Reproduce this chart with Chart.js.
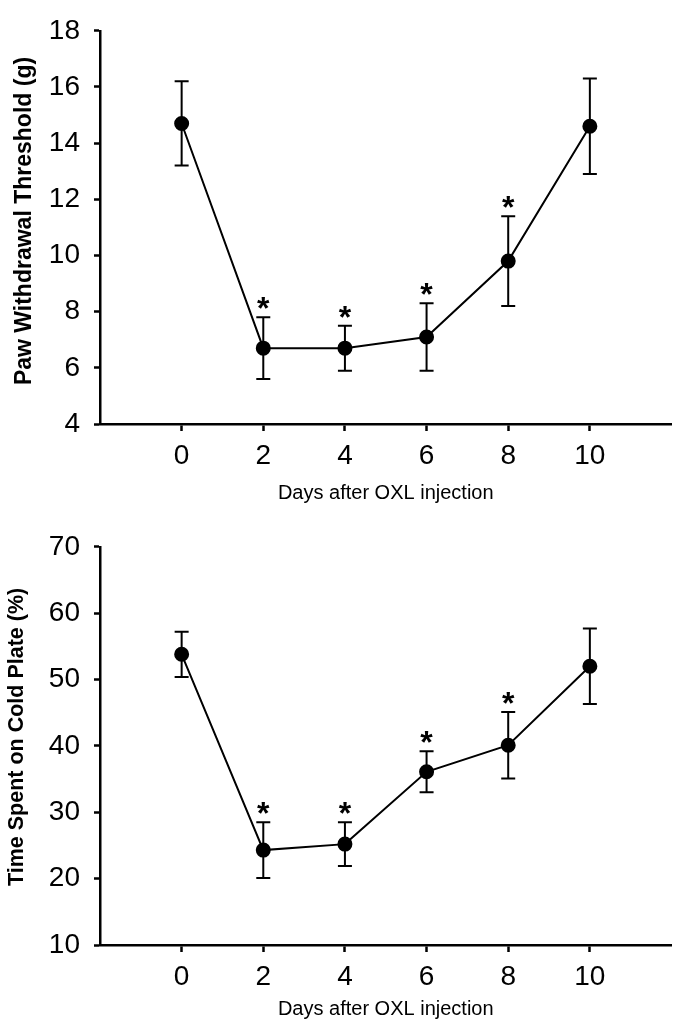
<!DOCTYPE html>
<html>
<head>
<meta charset="utf-8">
<script src="https://cdn.jsdelivr.net/npm/chart.js@4.4.1/dist/chart.umd.min.js"></script>
<style>
  html, body { margin: 0; padding: 0; background: #fff; }
  .box { position: relative; width: 680px; height: 516px; }
</style>
</head>
<body>
<div class="box"><canvas id="paw"></canvas></div>
<div class="box"><canvas id="cold"></canvas></div>
<script>
const days = [0, 2, 4, 6, 8, 10]
const significant = [false, true, true, true, true, false]

const pawMean = [14.7, 6.7, 6.7, 7.1, 9.8, 14.6]
const pawErr = [1.5, 1.1, 0.8, 1.2, 1.6, 1.7]

const coldMean = [53.8, 24.3, 25.2, 36.1, 40.1, 52.0]
const coldErr = [3.4, 4.2, 3.3, 3.1, 5.0, 5.7]

const xTitle = 'Days after OXL injection'
const pawTitle = '  Paw Withdrawal Threshold (g)'
const coldTitle = '   Time Spent on Cold Plate (%)'

const FONT = "'Liberation Sans', Arial, sans-serif"

Chart.defaults.color = '#000'
Chart.defaults.animation = false

// error bars + asterisks, drawn from the scales
const errorBars = {
    id: 'errorBars',
    beforeDatasetsDraw(chart, args, opts) {
        const { ctx, scales: { x, y } } = chart
        const ds = chart.data.datasets[0]
        ctx.save()
        ctx.strokeStyle = '#000'
        ctx.lineWidth = 2
        ds.data.forEach((p, i) => {
            const px = x.getPixelForValue(p.x)
            const top = y.getPixelForValue(p.y + opts.err[i])
            const bot = y.getPixelForValue(p.y - opts.err[i])
            ctx.beginPath()
            ctx.moveTo(px, top); ctx.lineTo(px, bot)
            ctx.moveTo(px - 7, top); ctx.lineTo(px + 7, top)
            ctx.moveTo(px - 7, bot); ctx.lineTo(px + 7, bot)
            ctx.stroke()
        })
        ctx.restore()
    },
    afterDatasetsDraw(chart, args, opts) {
        const { ctx, scales: { x, y } } = chart
        const ds = chart.data.datasets[0]
        ctx.save()
        ctx.fillStyle = '#000'
        ctx.font = 'bold 32px ' + FONT
        ctx.textAlign = 'center'
        ctx.textBaseline = 'alphabetic'
        ds.data.forEach((p, i) => {
            if (!significant[i]) return
            const px = x.getPixelForValue(p.x)
            const top = y.getPixelForValue(p.y + opts.err[i])
            ctx.fillText('*', px, top + 2)
        })
        ctx.restore()
    }
}

function makeChart(id, mean, err, yMin, yMax, yStep, yLabel, padTop, titlePad, titleSize) {
    return new Chart(document.getElementById(id), {
        type: 'scatter',
        data: {
            datasets: [{
                data: days.map((d, i) => ({ x: d, y: mean[i] })),
                showLine: true,
                borderColor: '#000',
                backgroundColor: '#000',
                borderWidth: 2,
                pointRadius: 6.5,
                pointHoverRadius: 6.5,
                tension: 0
            }]
        },
        options: {
            responsive: true,
            maintainAspectRatio: false,
            layout: { padding: { top: padTop, right: 7, left: 0, bottom: 0 } },
            plugins: {
                legend: { display: false },
                tooltip: { enabled: false },
                errorBars: { err: err }
            },
            scales: {
                x: {
                    type: 'linear',
                    min: -2,
                    max: 12,
                    afterBuildTicks: (axis) => {
                        axis.ticks = days.map(d => ({ value: d }))
                    },
                    afterFit: (axis) => { axis.height = 516 - padTop - 400 },
                    grid: { drawOnChartArea: false, drawTicks: true, tickLength: 7, tickWidth: 2.5, color: '#000' },
                    border: { display: true, color: '#000', width: 2.5 },
                    ticks: { font: { family: FONT, size: 28 }, padding: 8, color: '#000' },
                    title: {
                        display: true,
                        text: xTitle,
                        font: { family: FONT, size: 20 },
                        padding: { top: 0, bottom: 11 },
                        color: '#000'
                    }
                },
                y: {
                    min: yMin,
                    max: yMax,
                    ticks: { stepSize: yStep, font: { family: FONT, size: 28 }, padding: 14, color: '#000' },
                    afterFit: (axis) => { axis.width = 100 },
                    grid: { drawOnChartArea: false, drawTicks: true, tickLength: 6, tickWidth: 2.5, color: '#000' },
                    border: { display: true, color: '#000', width: 2.5 },
                    title: {
                        display: true,
                        text: yLabel,
                        font: { family: FONT, size: titleSize, weight: 'bold' },
                        padding: { top: titlePad, bottom: 0 },
                        color: '#000'
                    }
                }
            }
        },
        plugins: [errorBars]
    })
}

makeChart('paw', pawMean, pawErr, 4, 18, 2, pawTitle, 24, 11, 23)
makeChart('cold', coldMean, coldErr, 10, 70, 10, coldTitle, 29, 4, 21.5)
</script>
</body>
</html>
